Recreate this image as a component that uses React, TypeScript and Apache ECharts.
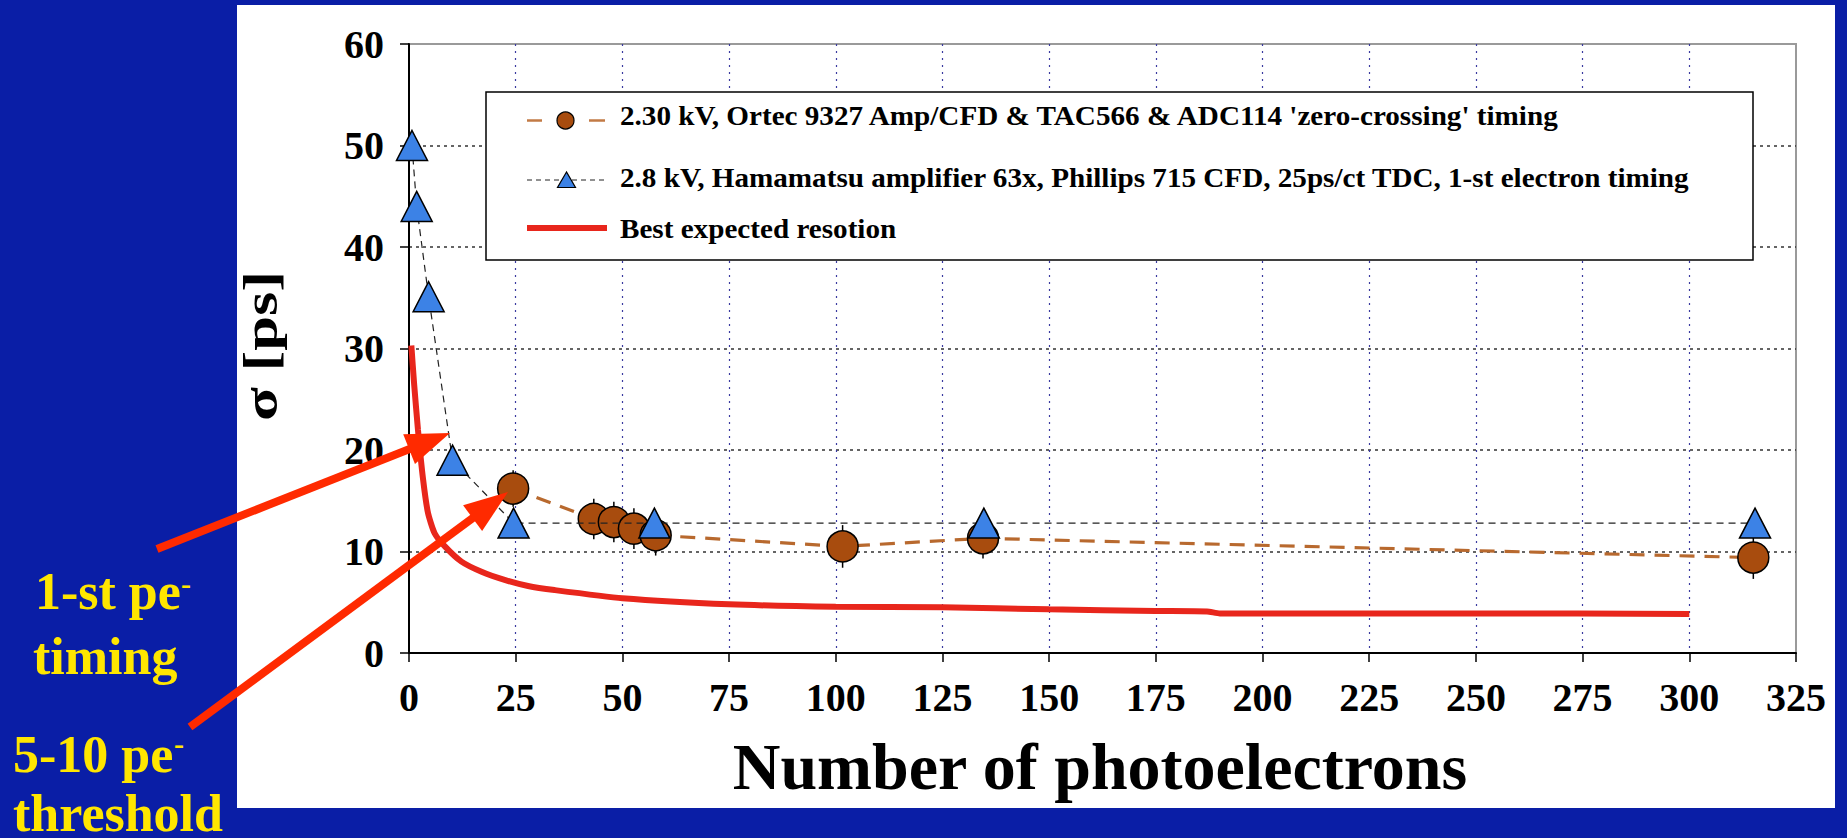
import React, { useEffect, useRef } from "react";
import * as echarts from "echarts";

// Timing resolution vs number of photoelectrons
const circleX = [24.4, 43.3, 48, 52.7, 57.8, 101.6, 134.5, 315];
const circleY = [16.2, 13.2, 12.9, 12.25, 11.6, 10.5, 11.3, 9.4];
const circleErr = [1.8, 2, 2, 2, 2, 2.1, 2, 2.1];

const triangleX = [0.7, 1.8, 4.6, 10.2, 24.5, 57.5, 134.7, 315.4];
const triangleY = [50, 44, 35.1, 19, 12.8, 12.8, 12.8, 12.8];

const bestX = [0.55, 1.2, 2.1, 3.3, 4.45, 6, 8.4, 12.3, 17, 22.4, 27.9, 34.1, 50, 75, 100, 125, 150, 175, 187, 190, 250, 300];
const bestY = [30.3, 26.5, 22, 17.1, 13.8, 11.8, 10.5, 9, 8, 7.2, 6.6, 6.2, 5.4, 4.8, 4.55, 4.5, 4.3, 4.15, 4.1, 3.9, 3.9, 3.85];

const seriesNames = [
  "2.30 kV, Ortec 9327 Amp/CFD & TAC566 & ADC114 'zero-crossing' timing",
  "2.8 kV, Hamamatsu amplifier 63x, Phillips 715 CFD, 25ps/ct TDC, 1-st electron timing",
  "Best expected resotion",
];

const xTitle = "Number of photoelectrons";
const yTitle = "σ [ps]";

const SERIF = "Liberation Serif";
const BLUE_BG = "#0a1ea6";
const YELLOW = "#ffe600";
const ARROW_RED = "#ff2a00";
const LINE_RED = "#e8261c";
const BROWN = "#a84c0e";
const BROWN_LINE = "#b8692e";
const TRI_BLUE = "#3c82e6";

function arrow(tx: number, ty: number, hx: number, hy: number) {
  const dx = hx - tx;
  const dy = hy - ty;
  const len = Math.hypot(dx, dy);
  const ux = dx / len;
  const uy = dy / len;
  const px = -uy;
  const py = ux;
  const headLen = 44;
  const headHalf = 16;
  const bx = hx - ux * headLen;
  const by = hy - uy * headLen;
  return [
    {
      type: "line",
      z: 30,
      shape: { x1: tx, y1: ty, x2: bx + ux * 4, y2: by + uy * 4 },
      style: { stroke: ARROW_RED, lineWidth: 8 },
    },
    {
      type: "polygon",
      z: 30,
      shape: {
        points: [
          [hx, hy],
          [bx + px * headHalf, by + py * headHalf],
          [bx - px * headHalf, by - py * headHalf],
        ],
      },
      style: { fill: ARROW_RED },
    },
  ];
}

function textEl(
  text: string,
  x: number,
  y: number,
  size: number,
  fill: string,
  align: string,
  extra: any = {},
  lineHeight?: number
) {
  return {
    type: "text",
    z: 30,
    x,
    y,
    ...extra,
    style: {
      text,
      fill,
      fontFamily: SERIF,
      fontWeight: "bold",
      fontSize: size,
      lineHeight: lineHeight ?? size * 1.2,
      verticalAlign: "middle",
      align,
    },
  };
}

export default function App() {
  const ref = useRef<HTMLDivElement>(null);

  useEffect(() => {
    if (!ref.current) return;
    const chart = echarts.init(ref.current, undefined, { renderer: "svg" });

    const circles = circleX.map((x, i) => [x, circleY[i]]);
    const errs = circleX.map((x, i) => [x, circleY[i], circleErr[i]]);
    const triangles = triangleX.map((x, i) => [x, triangleY[i]]);
    const best = bestX.map((x, i) => [x, bestY[i]]);

    const option: any = {
      animation: false,
      backgroundColor: BLUE_BG,
      grid: {
        left: 409,
        top: 44,
        width: 1387,
        height: 609,
        show: true,
        backgroundColor: "transparent",
        borderColor: "#9a9a9a",
        borderWidth: 2,
      },
      xAxis: {
        type: "value",
        min: 0,
        max: 325,
        interval: 25,
        axisLine: { show: true, lineStyle: { color: "#000", width: 2 } },
        axisTick: { show: true, length: 9, lineStyle: { color: "#000", width: 1.5 } },
        axisLabel: {
          color: "#000",
          fontFamily: SERIF,
          fontWeight: "bold",
          fontSize: 40,
          margin: 24,
        },
        splitLine: {
          show: true,
          showMinLine: false,
          showMaxLine: false,
          lineStyle: { color: "#3a3aa0", width: 1.2, type: [2, 5] },
        },
      },
      yAxis: {
        type: "value",
        min: 0,
        max: 60,
        interval: 10,
        axisLine: { show: true, lineStyle: { color: "#000", width: 2 } },
        axisTick: { show: true, length: 9, lineStyle: { color: "#000", width: 1.5 } },
        axisLabel: {
          color: "#000",
          fontFamily: SERIF,
          fontWeight: "bold",
          fontSize: 40,
          margin: 25,
        },
        splitLine: {
          show: true,
          showMinLine: false,
          showMaxLine: false,
          lineStyle: { color: "#333", width: 1.5, type: [3, 4] },
        },
      },
      series: [
        {
          type: "custom",
          name: "err",
          z: 1,
          data: errs,
          renderItem: (_params: any, api: any) => {
            const x = api.value(0);
            const y = api.value(1);
            const e = api.value(2);
            const p1 = api.coord([x, y - e]);
            const p2 = api.coord([x, y + e]);
            return {
              type: "line",
              shape: { x1: p1[0], y1: p1[1], x2: p2[0], y2: p2[1] },
              style: { stroke: "#000", lineWidth: 1.5 },
            };
          },
        },
        {
          type: "line",
          name: seriesNames[0],
          z: 2,
          data: circles,
          symbol: "circle",
          symbolSize: 31,
          itemStyle: { color: BROWN, borderColor: "#000", borderWidth: 1.5 },
          lineStyle: { color: BROWN_LINE, width: 3.2, type: [15, 10] },
        },
        {
          type: "line",
          name: seriesNames[1],
          z: 3,
          data: triangles,
          symbol: "triangle",
          symbolSize: [31, 30],
          itemStyle: { color: TRI_BLUE, borderColor: "#000", borderWidth: 1.5 },
          lineStyle: { color: "#222", width: 1.2, type: [7, 5] },
        },
        {
          type: "line",
          name: seriesNames[2],
          z: 4,
          data: best,
          symbol: "none",
          smooth: 0.2,
          lineStyle: { color: LINE_RED, width: 6 },
        },
      ],
      graphic: [
        // white panel behind the plot
        {
          type: "rect",
          z: -10,
          shape: { x: 237, y: 5, width: 1598, height: 803 },
          style: { fill: "#fff" },
        },
        // legend box
        {
          type: "rect",
          z: 5,
          shape: { x: 486, y: 92, width: 1267, height: 168 },
          style: { fill: "#fff", stroke: "#000", lineWidth: 1.5 },
        },
        {
          type: "line",
          z: 6,
          shape: { x1: 527, y1: 120.5, x2: 542, y2: 120.5 },
          style: { stroke: "#c27a45", lineWidth: 2.5 },
        },
        {
          type: "line",
          z: 6,
          shape: { x1: 589, y1: 120.5, x2: 605, y2: 120.5 },
          style: { stroke: "#c27a45", lineWidth: 2.5 },
        },
        {
          type: "circle",
          z: 6,
          shape: { cx: 565.5, cy: 120.5, r: 8.5 },
          style: { fill: BROWN, stroke: "#000", lineWidth: 1.2 },
        },
        textEl(seriesNames[0], 620, 116, 26.5, "#000", "left", { z: 6, scaleX: 1.1 }),
        {
          type: "line",
          z: 6,
          shape: { x1: 527, y1: 180, x2: 608, y2: 180 },
          style: { stroke: "#222", lineWidth: 1, lineDash: [5, 4] },
        },
        {
          type: "polygon",
          z: 6,
          shape: { points: [[566.5, 172], [557.5, 187.5], [575.5, 187.5]] },
          style: { fill: TRI_BLUE, stroke: "#000", lineWidth: 1.2 },
        },
        textEl(seriesNames[1], 620, 178, 26.5, "#000", "left", { z: 6, scaleX: 1.1 }),
        {
          type: "line",
          z: 6,
          shape: { x1: 527, y1: 228, x2: 607, y2: 228 },
          style: { stroke: LINE_RED, lineWidth: 6 },
        },
        textEl(seriesNames[2], 620, 229, 26.5, "#000", "left", { z: 6, scaleX: 1.1 }),
        // axis titles
        textEl(xTitle, 1100, 766, 66, "#000", "center", { z: 6 }),
        textEl(yTitle, 261, 346, 48, "#000", "center", {
          z: 6,
          rotation: Math.PI / 2,
          scaleX: 1.3,
        }),
        // annotations
        ...arrow(157, 549, 450, 433),
        ...arrow(190, 727, 508, 492),
        textEl("1-st pe", 35, 591, 52, YELLOW, "left", {}, 44),
        textEl("-", 181, 583, 30, YELLOW, "left", {}, 30),
        textEl("timing", 33, 656, 52, YELLOW, "left", {}, 44),
        textEl("5-10 pe", 13, 754, 52, YELLOW, "left", {}, 44),
        textEl("-", 174, 743, 30, YELLOW, "left", {}, 30),
        textEl("threshold", 13, 813, 52, YELLOW, "left", {}, 44),
      ],
    };

    chart.setOption(option);
    return () => chart.dispose();
  }, []);

  return (
    <div
      ref={ref}
      style={{ position: "fixed", left: 0, top: 0, width: 1847, height: 838 }}
    />
  );
}
